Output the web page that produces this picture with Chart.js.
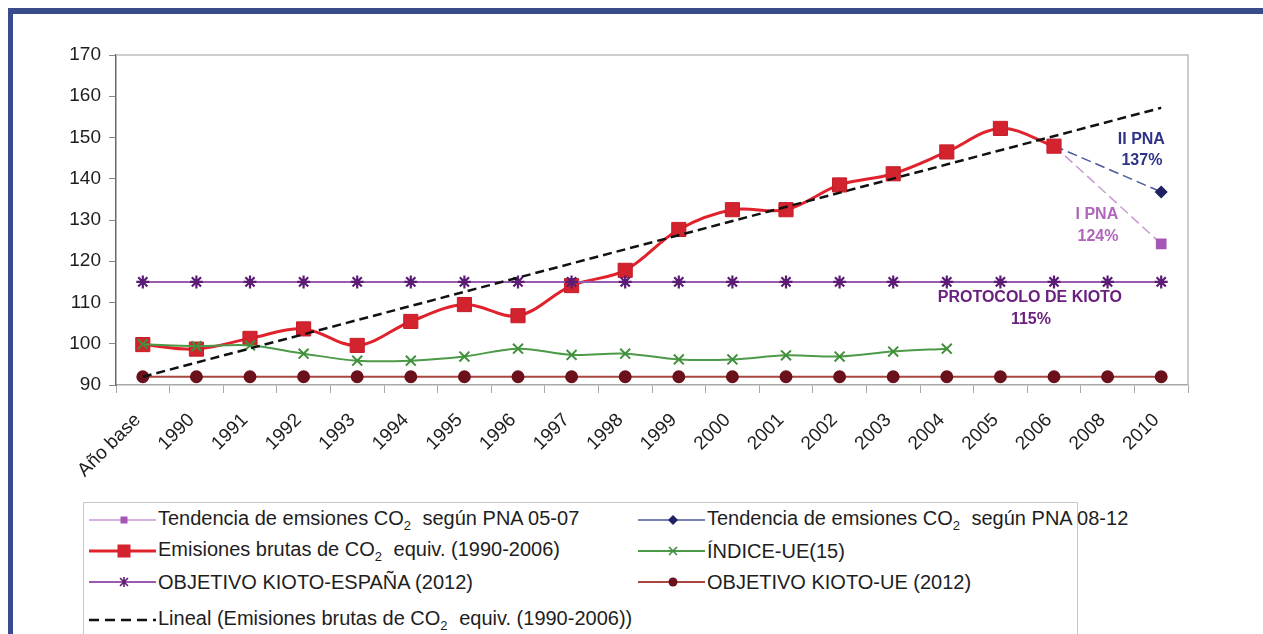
<!DOCTYPE html>
<html>
<head>
<meta charset="utf-8">
<script src="https://cdn.jsdelivr.net/npm/chart.js@4.4.1/dist/chart.umd.min.js"></script>
<style>
  body { margin: 0; background: #fff; width: 1263px; height: 634px; overflow: hidden; position: relative;
         font-family: "Liberation Sans", Arial, sans-serif; }
  #frame { position: absolute; left: 8px; top: 8px; width: 1300px; height: 700px;
           border-left: 5px solid #3a4b8c; border-top: 6px solid #3a4b8c; }
  #chartBox { position: absolute; left: 0; top: 0; }
  #legend { position: absolute; left: 83px; top: 502px; width: 993px; height: 200px; border: 1px solid #c8c8c8; }
  .item { position: absolute; height: 26px; display: flex; align-items: center; font-size: 20px; color: #1e1e1e; white-space: nowrap; }
  .item svg { margin-right: 2px; }
  .item sub { font-size: 13px; vertical-align: -5px; margin-right: 6px; }
</style>
</head>
<body>
<div id="frame"></div>
<div id="chartBox"><canvas id="myChart" width="1263" height="500"></canvas></div>
<div id="legend"></div>
<script>
const categories = ["Año base", "1990", "1991", "1992", "1993", "1994", "1995", "1996", "1997", "1998",
  "1999", "2000", "2001", "2002", "2003", "2004", "2005", "2006", "2008", "2010"];

const pna0507 = [null, null, null, null, null, null, null, null, null, null,
  null, null, null, null, null, null, null, 148, null, 124.2];
const pna0812 = [null, null, null, null, null, null, null, null, null, null,
  null, null, null, null, null, null, null, 148, null, 136.8];
const emisionesBrutas = [99.8, 98.7, 101.3, 103.6, 99.6, 105.4, 109.5, 106.8, 114.1, 117.8,
  127.7, 132.5, 132.5, 138.5, 141.2, 146.5, 152.2, 147.9, null, null];
const indiceUE15 = [99.9, 99.4, 99.6, 97.6, 95.9, 95.9, 96.9, 98.8, 97.3, 97.6,
  96.2, 96.2, 97.2, 96.9, 98.1, 98.8, null, null, null, null];
const kiotoEspana = [115, 115, 115, 115, 115, 115, 115, 115, 115, 115,
  115, 115, 115, 115, 115, 115, 115, 115, 115, 115];
const kiotoUE = [92, 92, 92, 92, 92, 92, 92, 92, 92, 92,
  92, 92, 92, 92, 92, 92, 92, 92, 92, 92];
const lineal = [92, null, null, null, null, null, null, null, null, null,
  null, null, null, null, null, null, null, null, null, 157.2];

const yTicks = [90, 100, 110, 120, 130, 140, 150, 160, 170];

const seriesNames = [
  "Tendencia de emsiones CO2 según PNA 05-07",
  "Tendencia de emsiones CO2 según PNA 08-12",
  "Emisiones brutas de CO2 equiv. (1990-2006)",
  "ÍNDICE-UE(15)",
  "OBJETIVO KIOTO-ESPAÑA (2012)",
  "OBJETIVO KIOTO-UE (2012)",
  "Lineal (Emisiones brutas de CO2 equiv. (1990-2006))"
];

// annotation text placed by category index / value
const notes = [
  { text: "II PNA", idx: 18.63, val: 149.6, color: "#2f3388" },
  { text: "137%", idx: 18.64, val: 144.3, color: "#2f3388" },
  { text: "I PNA", idx: 17.8, val: 131.2, color: "#b066bb" },
  { text: "124%", idx: 17.82, val: 125.9, color: "#b066bb" },
  { text: "PROTOCOLO DE KIOTO", idx: 16.55, val: 111.3, color: "#6a217e" },
  { text: "115%", idx: 16.57, val: 105.8, color: "#6a217e" }
];

const FONT = "'Liberation Sans', Arial, sans-serif";

const frameAndNotes = {
  id: "frameAndNotes",
  beforeDatasetsDraw(chart) {
    const { ctx, chartArea: a } = chart;
    ctx.save();
    ctx.strokeStyle = "#bdbdbd";
    ctx.lineWidth = 1.5;
    ctx.beginPath();
    ctx.moveTo(a.left, a.top);
    ctx.lineTo(a.right, a.top);
    ctx.lineTo(a.right, a.bottom);
    ctx.stroke();
    ctx.restore();
  },
  afterDatasetsDraw(chart) {
    const { ctx, scales } = chart;
    ctx.save();
    ctx.font = "bold 16px " + FONT;
    ctx.textAlign = "center";
    ctx.textBaseline = "middle";
    notes.forEach(n => {
      ctx.fillStyle = n.color;
      ctx.fillText(n.text, scales.x.getPixelForValue(n.idx), scales.y.getPixelForValue(n.val));
    });
    ctx.restore();
  }
};

const datasets = [
  { label: seriesNames[0], data: pna0507, borderColor: "#c79ad3", borderWidth: 1.5, borderDash: [10, 5],
    pointStyle: "rect", pointRadius: 6.5, pointBackgroundColor: "#a657b6", pointBorderColor: "#a657b6",
    spanGaps: true, tension: 0, order: 6 },
  { label: seriesNames[1], data: pna0812, borderColor: "#4b589f", borderWidth: 1.5, borderDash: [10, 5],
    pointStyle: "rectRot", pointRadius: 5.5, pointBackgroundColor: "#1f2260", pointBorderColor: "#1f2260",
    spanGaps: true, tension: 0, order: 5 },
  { label: seriesNames[2], data: emisionesBrutas, borderColor: "#e0222c", borderWidth: 3,
    pointStyle: "rect", pointRadius: 10, pointBackgroundColor: "#d3232f", pointBorderColor: "#c41e2a",
    pointBorderWidth: 1, tension: 0.35, order: 4 },
  { label: seriesNames[3], data: indiceUE15, borderColor: "#4c9a47", borderWidth: 2,
    pointStyle: "crossRot", pointRadius: 7, pointBorderColor: "#3f8f3b", pointBorderWidth: 2,
    tension: 0.35, order: 3 },
  { label: seriesNames[4], data: kiotoEspana, borderColor: "#9a5ab0", borderWidth: 2,
    pointStyle: "star", pointRadius: 6.5, pointBorderColor: "#5a1c74", pointBorderWidth: 2.2,
    tension: 0, order: 2 },
  { label: seriesNames[5], data: kiotoUE, borderColor: "#a8463f", borderWidth: 2,
    pointStyle: "circle", pointRadius: 5.5, pointBackgroundColor: "#6b111c", pointBorderColor: "#6b111c",
    tension: 0, order: 1 },
  { label: seriesNames[6], data: lineal, borderColor: "#111", borderWidth: 2.5, borderDash: [9, 5],
    pointRadius: 0, spanGaps: true, tension: 0, order: 0 }
];

const ctx = document.getElementById("myChart");
const myChart = new Chart(ctx, {
  type: "line",
  data: { labels: categories, datasets: datasets },
  options: {
    responsive: false,
    animation: false,
    devicePixelRatio: 1,
    layout: { padding: { top: 55, right: 75, left: 0, bottom: 0 } },
    plugins: { legend: { display: false }, tooltip: { enabled: false } },
    scales: {
      x: {
        offset: true,
        grid: { offset: true, drawOnChartArea: false, drawTicks: true, tickLength: 8, color: "#a8a8a8" },
        border: { color: "#a8a8a8", width: 1.5 },
        ticks: { color: "#1e1e1e", font: { family: FONT, size: 19 }, minRotation: 45, maxRotation: 45,
                 autoSkip: false, padding: 16, labelOffset: -5 },
        afterFit: s => { s.height = 500 - 385; }
      },
      y: {
        min: 90, max: 170,
        afterBuildTicks: s => { s.ticks = yTicks.map(v => ({ value: v })); },
        grid: { drawOnChartArea: false, drawTicks: true, tickLength: 7, color: "#8a8a8a" },
        border: { color: "#6a6a6a", width: 1.5 },
        ticks: { color: "#1e1e1e", font: { family: FONT, size: 19 }, padding: 8 },
        afterFit: s => { s.width = 116; }
      }
    }
  },
  plugins: [frameAndNotes]
});

// html legend, drawn from the dataset styles
function markerSvg(ds) {
  const w = 67, h = 26, cy = 13, cx = 35;
  const dash = ds.pointRadius === 0 && ds.borderDash ? ' stroke-dasharray="10 6"' : "";
  const line = `<line x1="0" y1="${cy}" x2="${w}" y2="${cy}" stroke="${ds.borderColor}" stroke-width="${ds.borderWidth}"${dash}/>`;
  let m = "";
  const c = ds.pointBorderColor || ds.borderColor;
  const r = ds.pointRadius;
  if (ds.pointStyle === "rect") {
    const s = r >= 9 ? 13 : 7;
    m = `<rect x="${cx - s / 2}" y="${cy - s / 2}" width="${s}" height="${s}" fill="${ds.pointBackgroundColor}"/>`;
  } else if (ds.pointStyle === "rectRot") {
    m = `<polygon points="${cx},${cy - 5} ${cx + 5},${cy} ${cx},${cy + 5} ${cx - 5},${cy}" fill="${ds.pointBackgroundColor}"/>`;
  } else if (ds.pointStyle === "crossRot") {
    m = `<path d="M${cx - 4} ${cy - 4}L${cx + 4} ${cy + 4}M${cx + 4} ${cy - 4}L${cx - 4} ${cy + 4}" stroke="${c}" stroke-width="1.6"/>`;
  } else if (ds.pointStyle === "star") {
    m = `<path d="M${cx - 4} ${cy - 4}L${cx + 4} ${cy + 4}M${cx + 4} ${cy - 4}L${cx - 4} ${cy + 4}M${cx} ${cy - 5}L${cx} ${cy + 5}" stroke="${c}" stroke-width="1.6"/>`;
  } else if (ds.pointStyle === "circle") {
    m = `<circle cx="${cx}" cy="${cy}" r="4.5" fill="${ds.pointBackgroundColor}"/>`;
  }
  return `<svg width="${w}" height="${h}">${line}${m}</svg>`;
}

const legendPlaces = [
  { ds: 0, left: 5, center: 17 },
  { ds: 1, left: 554, center: 17 },
  { ds: 2, left: 5, center: 48 },
  { ds: 3, left: 554, center: 48 },
  { ds: 4, left: 5, center: 79 },
  { ds: 5, left: 554, center: 79 },
  { ds: 6, left: 5, center: 117 }
];
const legendEl = document.getElementById("legend");
legendPlaces.forEach(p => {
  const ds = datasets[p.ds];
  const div = document.createElement("div");
  div.className = "item";
  div.style.left = p.left + "px";
  div.style.top = (p.center - 13) + "px";
  div.innerHTML = markerSvg(ds) + "<span>" + ds.label.replace(/CO2/g, "CO<sub>2</sub>") + "</span>";
  legendEl.appendChild(div);
});
</script>
</body>
</html>
